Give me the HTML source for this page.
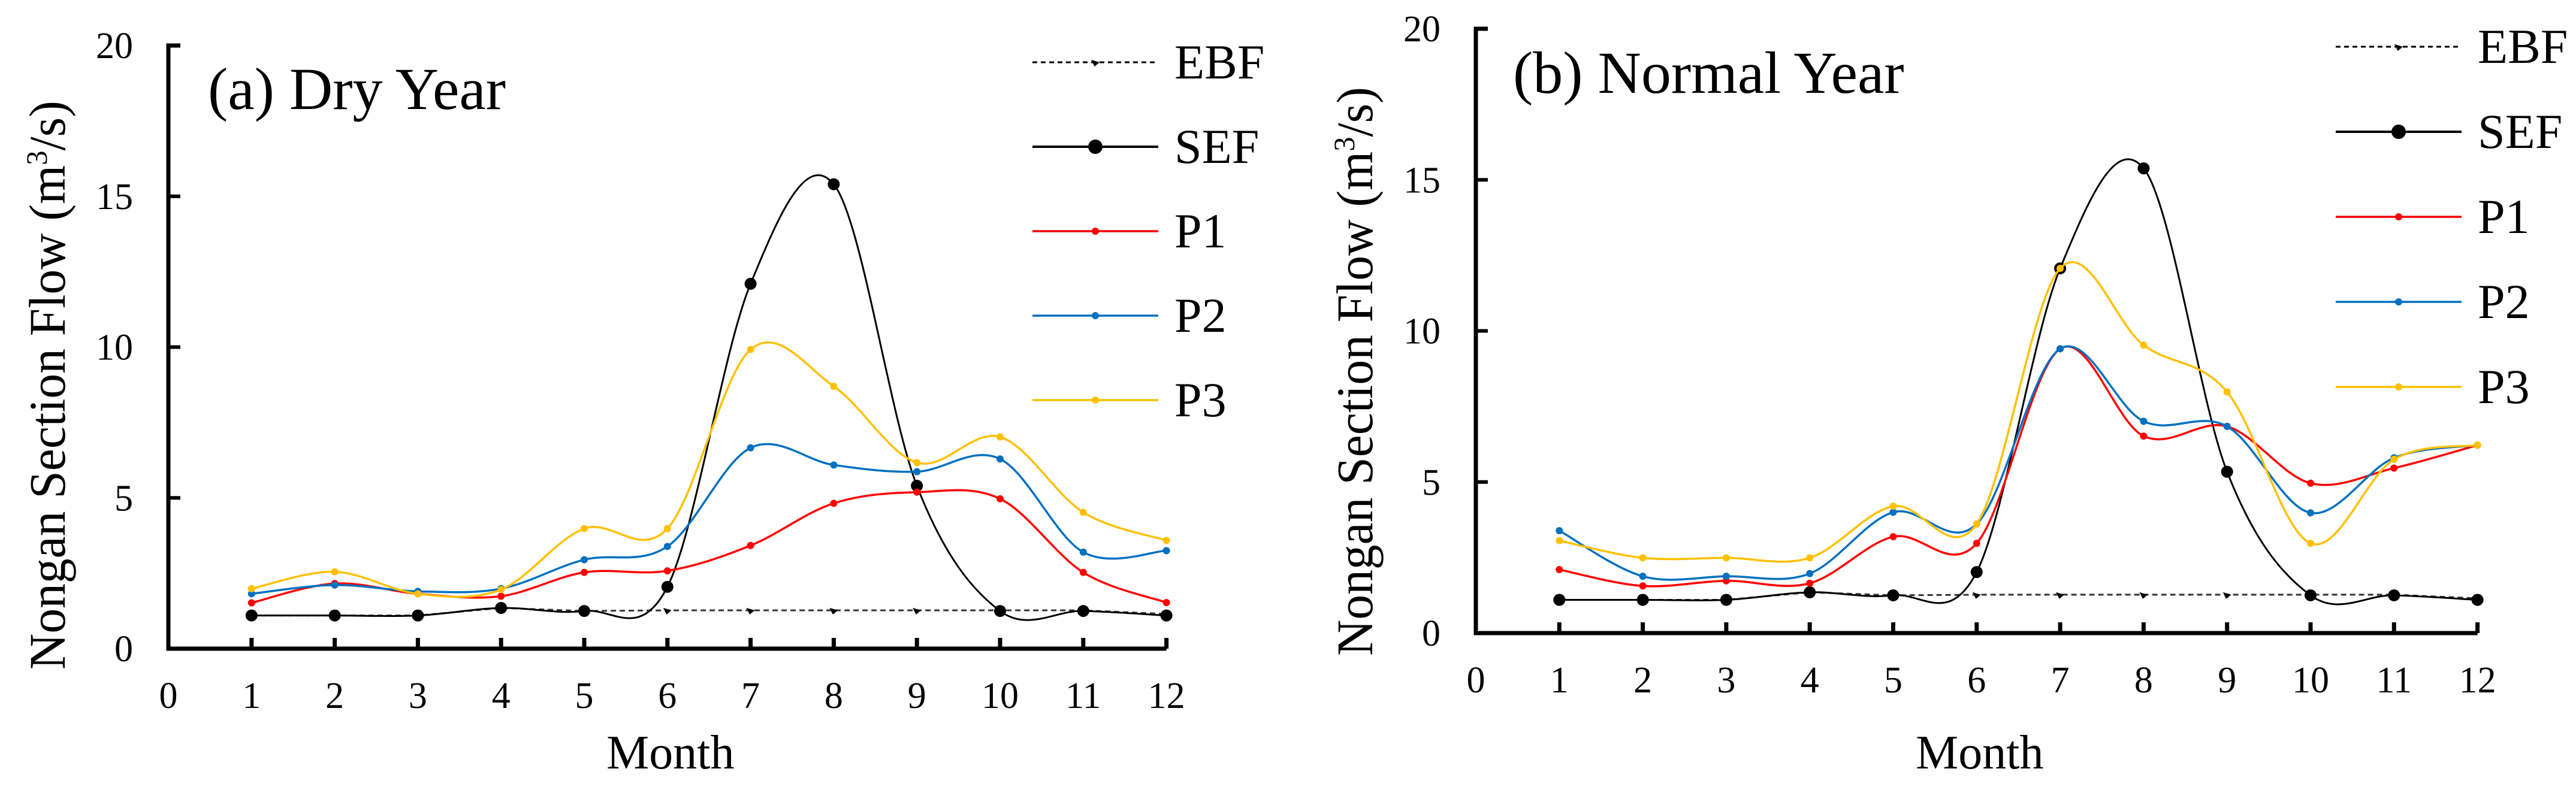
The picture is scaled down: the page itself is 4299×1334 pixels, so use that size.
<!DOCTYPE html>
<html><head><meta charset="utf-8"><style>
html,body{margin:0;padding:0;background:#fff;}
svg{display:block;}
text{font-family:"Liberation Serif","DejaVu Serif","Noto Serif CJK SC",serif;}
</style></head><body>
<svg id="chart" width="4299" height="1334" viewBox="0 0 4299 1334" xmlns="http://www.w3.org/2000/svg">
<rect width="4299" height="1334" fill="#fff"/>
</svg>
<script>
const months = [1,2,3,4,5,6,7,8,9,10,11,12];
const xTickLabels = ["0","1","2","3","4","5","6","7","8","9","10","11","12"];
const yTickValues = [0,5,10,15,20];
const seriesNames = ["EBF","SEF","P1","P2","P3"];
const dryEBF = [1.1,1.1,1.1,1.35,1.25,1.27,1.27,1.27,1.27,1.27,1.27,1.15];
const drySEF = [1.1,1.1,1.1,1.35,1.25,2.05,12.1,15.4,5.4,1.25,1.25,1.1];
const dryP1 = [1.52,2.16,1.82,1.74,2.53,2.58,3.42,4.82,5.19,4.97,2.53,1.53];
const dryP2 = [1.82,2.11,1.9,1.99,2.95,3.39,6.66,6.09,5.87,6.29,3.2,3.25];
const dryP3 = [1.99,2.55,1.82,1.96,3.98,3.98,9.92,8.7,6.17,7.02,4.52,3.59];
const normEBF = [1.1,1.1,1.1,1.35,1.25,1.27,1.27,1.27,1.27,1.27,1.27,1.15];
const normSEF = [1.1,1.1,1.1,1.35,1.25,2.02,12.07,15.38,5.34,1.25,1.25,1.1];
const normP1 = [2.1,1.56,1.73,1.65,3.19,2.97,9.41,6.52,6.84,4.96,5.46,6.22];
const normP2 = [3.39,1.88,1.88,1.97,4.0,3.61,9.41,7.01,6.84,3.98,5.8,6.22];
const normP3 = [3.06,2.49,2.49,2.49,4.2,3.61,12.07,9.53,7.98,2.97,5.75,6.22];

const NS = "http://www.w3.org/2000/svg";
const FONT = "'Liberation Serif', 'DejaVu Serif', 'Noto Serif CJK SC', serif";
const svg = document.getElementById("chart");
function mk(tag, attrs, parent){
  const e = document.createElementNS(NS, tag);
  for (const k in attrs) e.setAttribute(k, attrs[k]);
  if(tag==="text") e.style.fontFamily = FONT;
  (parent||svg).appendChild(e);
  return e;
}
const styles = {
  EBF:{color:"#000",w:3,dash:"9,6",marker:"star",r:7},
  SEF:{color:"#000",w:3,dash:null,marker:"dot",r:10},
  P1:{color:"#FF0000",w:3.5,dash:null,marker:"small",r:6},
  P2:{color:"#0070C0",w:3.5,dash:null,marker:"small",r:6},
  P3:{color:"#FFC000",w:3.5,dash:null,marker:"small",r:6}
};
function smoothPath(pts){
  let d = "M"+pts[0][0]+","+pts[0][1];
  for(let i=0;i<pts.length-1;i++){
    const p0=pts[i-1]||pts[i], p1=pts[i], p2=pts[i+1], p3=pts[i+2]||pts[i+1];
    const c1=[p1[0]+(p2[0]-p0[0])/6, p1[1]+(p2[1]-p0[1])/6];
    const c2=[p2[0]-(p3[0]-p1[0])/6, p2[1]-(p3[1]-p1[1])/6];
    d+=" C"+c1[0]+","+c1[1]+" "+c2[0]+","+c2[1]+" "+p2[0]+","+p2[1];
  }
  return d;
}
function marker(g, st, cx, cy, scale){
  const r = st.r*(scale||1);
  let m;
  if(st.marker==="dot"){ m = mk("circle",{cx:cx,cy:cy,r:r,fill:"#000"},g); }
  else if(st.marker==="star"){ m = mk("path",{d:`M${cx-r},${cy-r*0.6} L${cx+r},${cy} L${cx-r*0.2},${cy+r} Z`,fill:"#000"},g); }
  else { m = mk("circle",{cx:cx,cy:cy,r:r,fill:st.color},g); }
  return m;
}
function panel(cfg){
  const g = mk("g",{});
  
  
  const X = m => cfg.x0 + m*cfg.dx;
  const Y = v => cfg.y0 - v*cfg.sy;
  const ax = mk("path",{d:`M${cfg.x0+20},${Y(20)} L${cfg.x0},${Y(20)} L${cfg.x0},${cfg.y0} L${X(12)},${cfg.y0}`,fill:"none",stroke:"#000","stroke-width":7},g);
  
  
  yTickValues.forEach(v=>{
    if(v>0 && v<20){ mk("line",{x1:cfg.x0,x2:cfg.x0+20,y1:Y(v),y2:Y(v),stroke:"#000","stroke-width":6},g); }
    const t = mk("text",{x:cfg.x0-59,y:Y(v)+21,"text-anchor":"end","font-size":62},g);
    t.textContent = String(v);
    
    
  });
  xTickLabels.forEach((lab,i)=>{
    if(i>0) mk("line",{x1:X(i),x2:X(i),y1:cfg.y0,y2:cfg.y0-18,stroke:"#000","stroke-width":7},g);
    const t = mk("text",{x:X(i),y:cfg.y0+99,"text-anchor":"middle","font-size":62},g);
    t.textContent = lab;
    
    
  });
  const xt = mk("text",{x:X(6)+5,y:1283,"text-anchor":"middle","font-size":80},g);
  xt.textContent="Month";
  
  
  const yt = mk("text",{x:0,y:0,"text-anchor":"middle","font-size":86,transform:`translate(${cfg.x0-173},${cfg.ycen}) rotate(-90)`,textLength:950,lengthAdjust:"spacingAndGlyphs"},g);
  yt.innerHTML = 'Nongan Section Flow (m<tspan font-size="50" dy="-30">3</tspan><tspan dy="30">/s)</tspan>';
  
  
  const tt = mk("text",{x:cfg.tx,y:cfg.ty,"font-size":100,"xml:space":"preserve"},g);
  tt.textContent = cfg.title;
  
  
  cfg.series.forEach((vals,si)=>{
    const nm = seriesNames[si], st = styles[nm];
    const sg = mk("g",{},g);
    
    
    const pts = months.map((m,i)=>[X(m),Y(vals[i])]);
    const attrs = {d: nm==="EBF" ? "M"+pts.map(p=>p.join(",")).join(" L") : smoothPath(pts), fill:"none", stroke: nm==="EBF"?"#333":st.color, "stroke-width":st.w};
    if(st.dash) attrs["stroke-dasharray"]=st.dash;
    mk("path",attrs,sg);
    pts.forEach(p=>{
      const m = marker(sg,st,p[0],p[1]);
      
      
    });
  });
  seriesNames.forEach((nm,i)=>{
    const st = styles[nm];
    const lg = mk("g",{},g);
    
    
    const ly = cfg.ly0 + i*cfg.ldy;
    const a = {x1:cfg.lx,x2:cfg.lx+210,y1:ly,y2:ly,stroke:st.color,"stroke-width":st.marker==="dot"?4:st.w};
    if(st.dash) a["stroke-dasharray"]="8,6";
    mk("line",a,lg);
    marker(lg,st,cfg.lx+105,ly,nm==="SEF"?1.2:1);
    const t = mk("text",{x:cfg.lx+237,y:ly+27,"font-size":82},lg);
    t.textContent = nm;
  });
}
panel({name:"panel-dry-year",x0:281,dx:138.8,y0:1083,sy:50.35,ycen:643,title:"(a)  Dry Year",tx:347,ty:182,
  series:[dryEBF,drySEF,dryP1,dryP2,dryP3],lx:1723,ly0:104,ldy:141});
panel({name:"panel-normal-year",x0:2463,dx:139.3,y0:1057,sy:50.45,ycen:620,title:"(b) Normal Year",tx:2525,ty:155,
  series:[normEBF,normSEF,normP1,normP2,normP3],lx:3898,ly0:78,ldy:142});
</script>
</body></html>
